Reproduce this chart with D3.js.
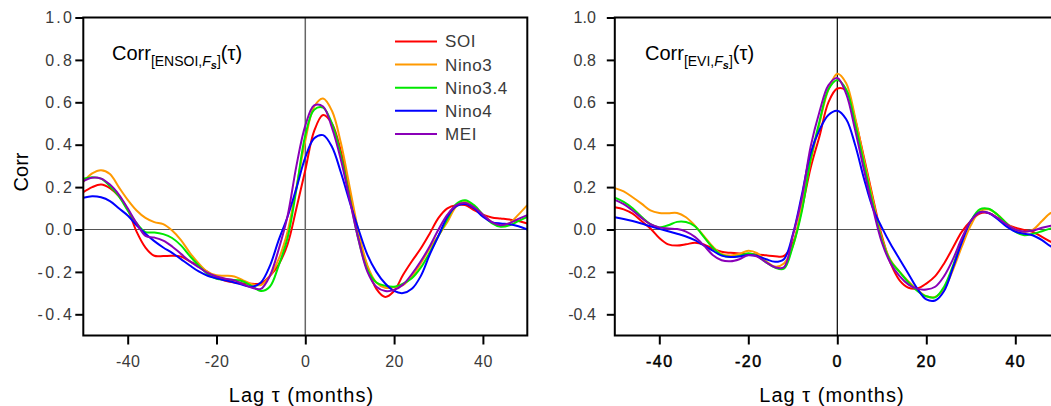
<!DOCTYPE html>
<html><head><meta charset="utf-8">
<script src="https://cdn.jsdelivr.net/npm/d3@7/dist/d3.min.js"></script>
<style>
html,body{margin:0;padding:0;background:#fff;}
svg{display:block;font-family:"Liberation Sans",Arial,sans-serif;}
</style></head><body>
<svg id="chart" width="1051" height="406"></svg>
<script>
// ---------- data ----------
const lags = [-50,-48,-46,-44,-42,-40,-38,-36,-34,-32,-30,-28,-26,-24,-22,-20,-18,-16,-14,-12,-10,-8,-6,-4,-2,
              0,2,4,6,8,10,12,14,16,18,20,22,24,26,28,30,32,34,36,38,40,42,44,46,48,50];
const seriesNames = ["SOI","Nino3","Nino3.4","Nino4","MEI"];
const xTickValues = [-40,-20,0,20,40];
const yTickValues = [-0.4,-0.2,0.0,0.2,0.4,0.6,0.8,1.0];

// Left panel: Corr[ENSOI,Fs](tau)
const ensoSOI = [0.176,0.200,0.212,0.195,0.157,0.095,-0.010,-0.085,-0.124,-0.125,-0.124,-0.128,-0.150,-0.172,-0.200,-0.225,-0.242,-0.250,-0.255,-0.256,-0.255,-0.220,-0.165,-0.070,0.100,
  0.280,0.465,0.540,0.500,0.370,0.180,-0.030,-0.177,-0.280,-0.318,-0.290,-0.215,-0.150,-0.090,-0.020,0.055,0.100,0.115,0.115,0.092,0.070,0.057,0.052,0.047,0.040,0.028];
const ensoNino3 = [0.225,0.265,0.280,0.262,0.200,0.140,0.090,0.055,0.035,0.025,-0.005,-0.050,-0.110,-0.160,-0.200,-0.216,-0.218,-0.222,-0.240,-0.258,-0.262,-0.220,-0.140,-0.010,0.200,
  0.420,0.580,0.618,0.560,0.410,0.200,-0.010,-0.170,-0.250,-0.275,-0.272,-0.262,-0.222,-0.160,-0.090,-0.028,0.035,0.108,0.130,0.110,0.070,0.035,0.016,0.030,0.070,0.115];
const ensoNino34 = [0.240,0.247,0.240,0.204,0.157,0.090,0.030,-0.012,-0.014,-0.022,-0.040,-0.075,-0.125,-0.170,-0.210,-0.232,-0.236,-0.238,-0.245,-0.267,-0.290,-0.270,-0.170,-0.040,0.190,
  0.445,0.565,0.575,0.500,0.350,0.150,-0.050,-0.190,-0.250,-0.265,-0.270,-0.255,-0.230,-0.180,-0.110,-0.030,0.050,0.120,0.138,0.115,0.070,0.030,0.013,0.020,0.040,0.060];
const ensoNino4 = [0.150,0.157,0.152,0.134,0.100,0.066,0.020,-0.020,-0.055,-0.085,-0.110,-0.140,-0.170,-0.198,-0.218,-0.230,-0.240,-0.250,-0.262,-0.270,-0.250,-0.173,-0.050,0.060,0.195,
  0.340,0.430,0.445,0.390,0.270,0.130,0.000,-0.120,-0.200,-0.255,-0.290,-0.300,-0.280,-0.220,-0.120,-0.030,0.060,0.110,0.120,0.100,0.060,0.035,0.028,0.025,0.015,0.000];
const ensoMEI = [0.228,0.244,0.240,0.212,0.165,0.100,0.030,-0.030,-0.038,-0.052,-0.080,-0.115,-0.150,-0.178,-0.205,-0.222,-0.232,-0.240,-0.258,-0.275,-0.280,-0.220,-0.094,0.063,0.300,
  0.490,0.585,0.580,0.480,0.330,0.140,-0.050,-0.200,-0.270,-0.290,-0.285,-0.260,-0.210,-0.150,-0.080,0.000,0.070,0.115,0.125,0.105,0.070,0.035,0.020,0.030,0.050,0.068];

// Right panel: Corr[EVI,Fs](tau)
const eviSOI = [0.105,0.095,0.075,0.040,0.005,-0.040,-0.070,-0.076,-0.070,-0.062,-0.070,-0.090,-0.105,-0.110,-0.113,-0.115,-0.118,-0.122,-0.126,-0.125,-0.065,0.094,0.290,0.440,0.600,
  0.665,0.655,0.520,0.340,0.150,-0.030,-0.160,-0.240,-0.275,-0.278,-0.255,-0.220,-0.160,-0.085,-0.010,0.040,0.075,0.078,0.055,0.025,0.008,-0.002,-0.012,-0.035,-0.058,-0.070];
const eviNino3 = [0.195,0.180,0.152,0.122,0.090,0.078,0.077,0.078,0.058,0.018,-0.030,-0.080,-0.115,-0.123,-0.115,-0.100,-0.112,-0.150,-0.175,-0.160,-0.080,0.113,0.320,0.500,0.660,
  0.735,0.690,0.530,0.330,0.140,-0.040,-0.145,-0.200,-0.245,-0.285,-0.315,-0.318,-0.280,-0.190,-0.080,0.020,0.085,0.095,0.070,0.030,0.000,-0.012,0.000,0.040,0.078,0.090];
const eviNino34 = [0.150,0.130,0.100,0.060,0.025,0.010,0.020,0.036,0.035,0.015,-0.035,-0.085,-0.120,-0.130,-0.125,-0.112,-0.125,-0.155,-0.180,-0.185,-0.080,0.082,0.330,0.510,0.660,
  0.705,0.660,0.500,0.310,0.120,-0.050,-0.150,-0.200,-0.250,-0.290,-0.315,-0.320,-0.270,-0.170,-0.050,0.040,0.095,0.098,0.070,0.030,-0.010,-0.027,-0.020,-0.008,0.005,0.010];
const eviNino4 = [0.058,0.050,0.040,0.028,0.015,0.003,-0.008,-0.020,-0.033,-0.050,-0.075,-0.100,-0.123,-0.130,-0.127,-0.120,-0.125,-0.140,-0.152,-0.140,-0.024,0.160,0.360,0.470,0.540,
  0.560,0.520,0.400,0.240,0.100,0.010,-0.070,-0.140,-0.210,-0.280,-0.330,-0.335,-0.290,-0.180,-0.060,0.040,0.082,0.078,0.050,0.015,-0.010,-0.020,-0.028,-0.050,-0.080,-0.100];
const eviMEI = [0.140,0.120,0.090,0.055,0.025,0.010,0.005,0.002,-0.010,-0.035,-0.075,-0.120,-0.145,-0.150,-0.140,-0.122,-0.128,-0.155,-0.178,-0.178,-0.030,0.145,0.390,0.555,0.680,
  0.715,0.640,0.470,0.280,0.100,-0.060,-0.160,-0.220,-0.260,-0.280,-0.283,-0.270,-0.220,-0.140,-0.040,0.040,0.080,0.078,0.055,0.025,0.000,-0.010,-0.005,0.008,0.018,0.025];

// ---------- styles ----------
const colors = ["#ff0000","#ff9900","#00e800","#0000ff","#8a00b8"];
const FONT = '"Liberation Sans", Arial, sans-serif';

const svg = d3.select("#chart");
const y = d3.scaleLinear().domain([-0.5, 1.0]).range([335.5, 17.5]);

function drawPanel(opts) {
  const x = d3.scaleLinear().domain([-50, 50]).range(opts.xRange);
  const g = svg.append("g");
  const [x0, x1] = opts.xRange;
  const [yb, yt] = y.range();

  const clipId = "clip" + opts.id;
  svg.append("defs").append("clipPath").attr("id", clipId)
    .append("rect").attr("x", x0).attr("y", yt).attr("width", x1 - x0).attr("height", yb - yt);

  // zero reference lines
  g.append("line").attr("x1", x0).attr("x2", x1).attr("y1", y(0)).attr("y2", y(0))
    .attr("stroke", "#555").attr("stroke-width", 1.2);
  g.append("line").attr("x1", x(0)).attr("x2", x(0)).attr("y1", yt).attr("y2", yb)
    .attr("stroke", opts.vColor).attr("stroke-width", opts.vWidth);

  // series
  const line = d3.line().x((d, i) => x(lags[i])).y(d => y(d)).curve(d3.curveCatmullRom.alpha(0.5));
  const lg = g.append("g").attr("clip-path", `url(#${clipId})`);
  opts.series.forEach((s, k) => {
    lg.append("path").attr("d", line(s)).attr("fill", "none")
      .attr("stroke", colors[k]).attr("stroke-width", 2).attr("stroke-linejoin", "round");
  });

  // frame
  g.append("rect").attr("x", x0).attr("y", yt).attr("width", x1 - x0).attr("height", yb - yt)
    .attr("fill", "none").attr("stroke", "#000").attr("stroke-width", 2);

  // y axis
  const ya = g.append("g").attr("transform", `translate(${x0},0)`)
    .call(d3.axisLeft(y).tickValues(yTickValues).tickSize(8).tickPadding(opts.yPad)
      .tickFormat(d => d.toFixed(1)));
  ya.select(".domain").remove();
  ya.selectAll(".tick line").attr("stroke", "#000").attr("stroke-width", 2);
  ya.selectAll(".tick text").attr("font-family", FONT).attr("font-size", opts.yFont)
    .attr("letter-spacing", opts.ySpacing).attr("fill", "#3a3a3a");

  // x axis
  const xa = g.append("g").attr("transform", `translate(0,${yb})`)
    .call(d3.axisBottom(x).tickValues(xTickValues).tickSize(9).tickPadding(11)
      .tickFormat(d => String(d)));
  xa.select(".domain").remove();
  xa.selectAll(".tick line").attr("stroke", "#000").attr("stroke-width", 2);
  xa.selectAll(".tick text").attr("font-family", FONT).attr("font-size", 16)
    .attr("letter-spacing", opts.xSpacing).attr("fill", opts.xTickColor)
    .attr("stroke", opts.xTickStroke ? opts.xTickColor : null).attr("stroke-width", opts.xTickStroke || null);

  // x axis label
  g.append("text").attr("x", opts.xLabelX).attr("y", 402).attr("text-anchor", "middle")
    .attr("font-family", FONT).attr("font-size", 20).attr("letter-spacing", 1).attr("fill", "#000")
    .text("Lag τ (months)");

  // title
  const t = g.append("text").attr("x", opts.titleX).attr("y", 60).attr("font-family", FONT).attr("fill", "#000");
  t.append("tspan").attr("font-size", 20).text("Corr");
  t.append("tspan").attr("font-size", 14).attr("dy", 6).text("[" + opts.sub + ",");
  t.append("tspan").attr("font-size", 14).attr("font-style", "italic").text("F");
  t.append("tspan").attr("font-size", 11).attr("font-style", "italic").attr("font-weight", "bold").attr("dy", 3).text("s");
  t.append("tspan").attr("font-size", 14).attr("dy", -3).text("]");
  t.append("tspan").attr("font-size", 20).attr("dy", -6).text("(τ)");
  return { g, x };
}

const left = drawPanel({
  id: "L", xRange: [83.3, 527.3], series: [ensoSOI, ensoNino3, ensoNino34, ensoNino4, ensoMEI],
  vColor: "#666", vWidth: 1.5, yPad: 1, yFont: 16, ySpacing: 2.3,
  xSpacing: 0.5, xTickColor: "#3a3a3a", xTickStroke: 0,
  xLabelX: 301.5, titleX: 112, sub: "ENSOI"
});
const right = drawPanel({
  id: "R", xRange: [614.8, 1059.8], series: [eviSOI, eviNino3, eviNino34, eviNino4, eviMEI],
  vColor: "#000", vWidth: 1.2, yPad: 11, yFont: 16, ySpacing: 0,
  xSpacing: 1.5, xTickColor: "#000", xTickStroke: 0.5,
  xLabelX: 832, titleX: 645, sub: "EVI"
});

// y axis label (left only)
svg.append("text").attr("transform", "translate(28,172) rotate(-90)").attr("text-anchor", "middle")
  .attr("font-family", FONT).attr("font-size", 20).attr("fill", "#000").text("Corr");

// legend (left panel)
const legend = svg.append("g");
seriesNames.forEach((name, k) => {
  const yy = 41.5 + k * 23.1;
  legend.append("line").attr("x1", 395).attr("x2", 437).attr("y1", yy).attr("y2", yy)
    .attr("stroke", colors[k]).attr("stroke-width", 2);
  legend.append("text").attr("x", 445).attr("y", yy).attr("dy", "0.35em")
    .attr("font-family", FONT).attr("font-size", 17).attr("letter-spacing", 0.6).attr("fill", "#3a3a3a")
    .text(name);
});
</script>
</body></html>
